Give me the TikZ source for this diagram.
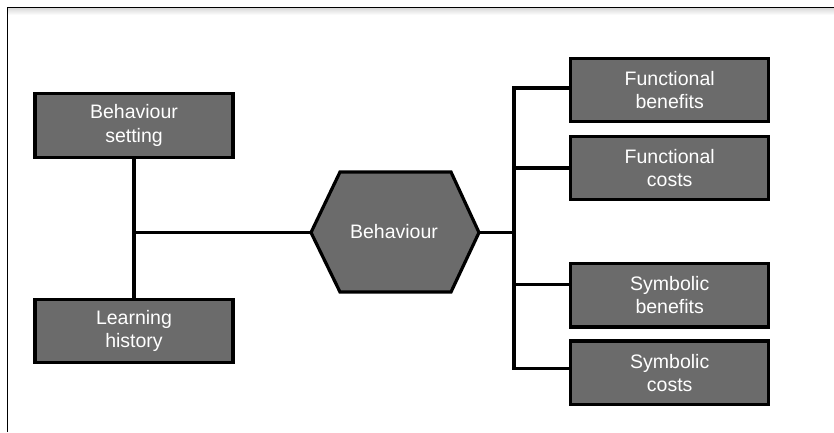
\documentclass[tikz,border=0pt]{standalone}
\usepackage{fontspec}
\setmainfont{Liberation Sans}
\usetikzlibrary{shadows}
\begin{document}
\begin{tikzpicture}[x=1pt,y=-1pt,
  boxstyle/.style={draw=black, line width=3.2pt, fill=boxgray, minimum width=198pt,
    minimum height=63.5pt, inner sep=0pt, text=white, align=center,
    font=\fontsize{19.5}{23.3}\selectfont,
    drop shadow={opacity=0.18, shadow xshift=1.2pt, shadow yshift=-1.5pt}},
  conn/.style={draw=black, line width=3.2pt, line join=miter},
  framestyle/.style={draw=black, line width=1.3pt}]
\definecolor{boxgray}{HTML}{6B6B6B}
\useasboundingbox (0,0) rectangle (834,432);
\fill[white] (0,0) rectangle (834,432);
% frame
\shade[top color=black!14, bottom color=white] (8,8.2) rectangle (834,15);
\draw[framestyle] (7.5,432) -- (7.5,7.5) -- (834,7.5);
% hexagon
\coordinate (hexL) at (311,232.5);
\coordinate (hexR) at (479,232.5);
\filldraw[fill=boxgray, draw=black, line width=3.2pt, line join=miter]
  (hexL) -- (340,172) -- (451,172) -- (hexR) -- (451,292) -- (340,292) -- cycle;
\node[text=white, font=\fontsize{19.5}{23.3}\selectfont] (hex) at (394,232) {Behaviour};
% left boxes
\node[boxstyle] (bs) at (134,125.5) {Behaviour\\setting};
\node[boxstyle] (lh) at (134,331) {Learning\\history};
% right boxes
\node[boxstyle] (fb) at (669.7,90) {Functional\\benefits};
\node[boxstyle] (fc) at (669.7,168) {Functional\\costs};
\node[boxstyle] (sb) at (669.7,295.3) {Symbolic\\benefits};
\node[boxstyle] (sc) at (669.7,372.8) {Symbolic\\costs};
% left connectors
\draw[conn] (bs.south) -- (lh.north);
\draw[conn] (bs.south |- hexL) -- (hexL);
% right connectors
\coordinate (rj) at (514,232.5);
\draw[conn] (hexR) -- (rj);
\draw[conn] ([yshift=2pt]fb.west) -| (rj) |- ([yshift=4pt]sc.west);
\draw[conn] (fc.west) -- (fc.west -| rj);
\draw[conn] ([yshift=11pt]sb.west) -- ([yshift=11pt]sb.west -| rj);
\end{tikzpicture}
\end{document}
